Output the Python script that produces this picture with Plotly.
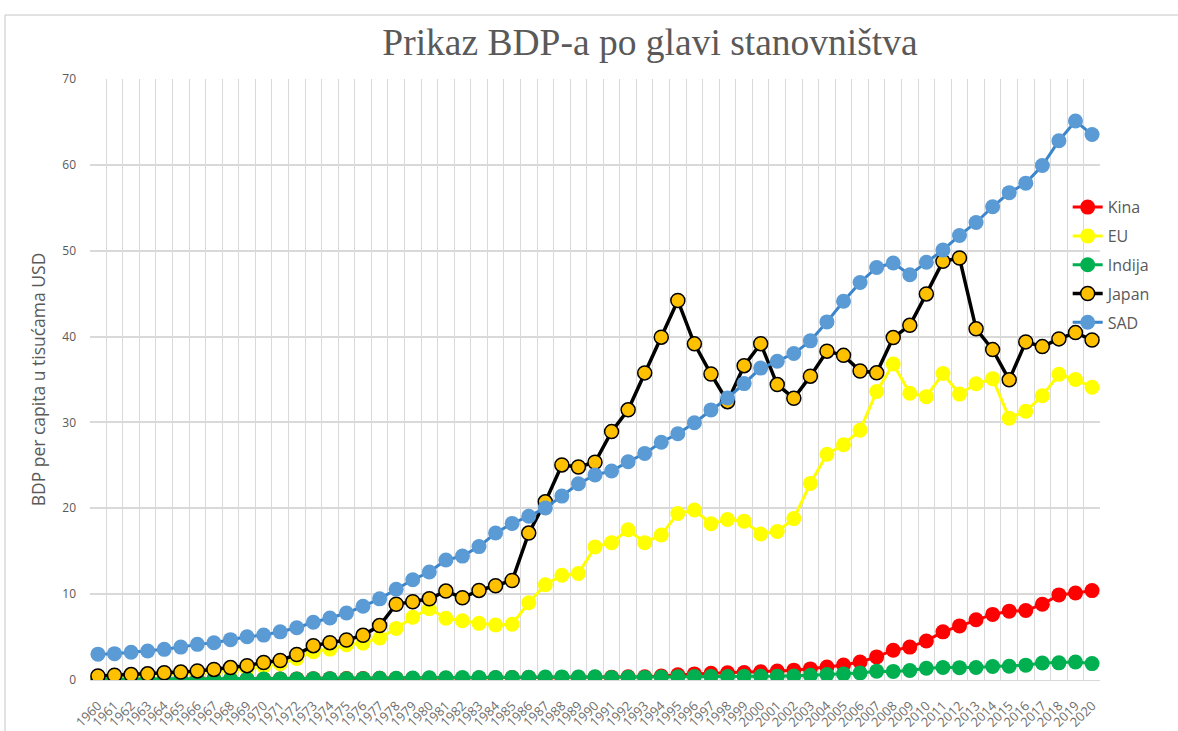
import plotly.graph_objects as go

years = list(range(1960, 2021))

kina = [0.09, 0.08, 0.07, 0.08, 0.09, 0.10, 0.10, 0.10, 0.09, 0.10,
        0.11, 0.12, 0.13, 0.16, 0.16, 0.18, 0.17, 0.19, 0.16, 0.18,
        0.20, 0.20, 0.20, 0.23, 0.25, 0.29, 0.28, 0.25, 0.28, 0.31,
        0.32, 0.33, 0.37, 0.38, 0.47, 0.61, 0.71, 0.78, 0.83, 0.87,
        0.96, 1.05, 1.15, 1.29, 1.51, 1.75, 2.10, 2.69, 3.47, 3.83,
        4.55, 5.61, 6.30, 7.02, 7.64, 8.02, 8.09, 8.82, 9.91, 10.14,
        10.41]

eu = [0.35, 0.40, 0.45, 0.50, 0.60, 0.70, 0.80, 0.95, 1.10, 1.30,
      1.60, 1.90, 2.50, 3.30, 3.60, 4.10, 4.30, 4.90, 6.00, 7.30,
      8.30, 7.20, 6.90, 6.60, 6.40, 6.50, 9.00, 11.10, 12.20, 12.40,
      15.50, 16.00, 17.50, 16.00, 16.90, 19.40, 19.80, 18.20, 18.70, 18.50,
      17.00, 17.30, 18.80, 22.90, 26.30, 27.40, 29.10, 33.60, 36.80, 33.40,
      33.00, 35.70, 33.30, 34.50, 35.10, 30.50, 31.30, 33.10, 35.60, 35.00,
      34.10]

indija = [0.08, 0.09, 0.09, 0.10, 0.12, 0.12, 0.09, 0.10, 0.10, 0.11,
          0.11, 0.12, 0.12, 0.14, 0.16, 0.16, 0.16, 0.19, 0.21, 0.22,
          0.27, 0.27, 0.28, 0.29, 0.28, 0.30, 0.31, 0.34, 0.36, 0.35,
          0.37, 0.30, 0.32, 0.30, 0.35, 0.37, 0.40, 0.42, 0.41, 0.44,
          0.44, 0.45, 0.47, 0.55, 0.63, 0.71, 0.81, 1.03, 1.00, 1.10,
          1.36, 1.46, 1.44, 1.45, 1.57, 1.61, 1.73, 1.98, 2.00, 2.10,
          1.91]

japan = [0.48, 0.56, 0.63, 0.72, 0.84, 0.92, 1.06, 1.23, 1.45, 1.67,
         2.04, 2.27, 2.97, 4.00, 4.35, 4.66, 5.20, 6.34, 8.82, 9.11,
         9.46, 10.36, 9.58, 10.43, 10.98, 11.59, 17.11, 20.75, 25.05, 24.81,
         25.36, 28.93, 31.47, 35.77, 39.93, 44.20, 39.15, 35.64, 32.42, 36.61,
         39.17, 34.41, 32.82, 35.39, 38.30, 37.81, 35.99, 35.78, 39.88, 41.31,
         44.97, 48.76, 49.15, 40.90, 38.48, 34.96, 39.38, 38.83, 39.73, 40.46,
         39.60]

sad = [3.01, 3.07, 3.24, 3.38, 3.57, 3.83, 4.15, 4.34, 4.70, 5.03,
       5.23, 5.61, 6.09, 6.73, 7.23, 7.80, 8.59, 9.45, 10.57, 11.67,
       12.58, 13.98, 14.43, 15.54, 17.12, 18.24, 19.07, 20.04, 21.42, 22.86,
       23.89, 24.34, 25.42, 26.39, 27.70, 28.69, 29.97, 31.46, 32.85, 34.52,
       36.33, 37.13, 38.02, 39.50, 41.71, 44.12, 46.30, 48.05, 48.57, 47.20,
       48.65, 50.07, 51.78, 53.29, 55.12, 56.76, 57.87, 59.92, 62.81, 65.10,
       63.53]

y_ticks = [0, 10, 20, 30, 40, 50, 60, 70]

series = [
    ("Kina", kina, "#FF0000", "#FF0000", "#FF0000", 0, 15),
    ("EU", eu, "#FFFF00", "#FFFF00", "#FFFF00", 0, 15),
    ("Indija", indija, "#00B050", "#00B050", "#00B050", 0, 15),
    ("Japan", japan, "#000000", "#FFC000", "#000000", 1.5, 14),
    ("SAD", sad, "#3A85CB", "#5B9BD5", "#5B9BD5", 0, 15),
]

fig = go.Figure()
for i, (name, vals, lcol, mcol, mlcol, mlw, msize) in enumerate(series):
    fig.add_trace(go.Scatter(
        x=years, y=vals, name=name, mode="lines+markers",
        legendgroup="g%d" % i,
        line=dict(color=lcol, width=3.5 if name == "Japan" else 3),
        marker=dict(color=mcol, size=msize,
                    line=dict(color=mlcol, width=mlw)),
    ))

grid = "#D9D9D9"
txt = "#595959"

fig.update_layout(
    width=1178, height=731,
    paper_bgcolor="white", plot_bgcolor="white",
    margin=dict(l=90, r=78, t=79, b=51),
    font=dict(family="Open Sans, Noto Sans, sans-serif", color=txt),
    title=dict(text="Prikaz BDP-a po glavi stanovništva",
               font=dict(family="Liberation Serif, serif", size=37.5, color=txt),
               x=650 / 1178, xanchor="center", xref="container",
               y=1 - 42 / 731, yanchor="middle", yref="container"),
    legend=dict(x=0.968, y=0.815, xanchor="left", yanchor="top",
                font=dict(size=16, color=txt), bgcolor="rgba(0,0,0,0)",
                tracegroupgap=5, itemwidth=30),
    showlegend=True,
)

fig.update_xaxes(
    type="linear", range=[1959.52, 2020.48], automargin=False,
    tickmode="array", tickvals=years, ticktext=[str(y) for y in years],
    tickangle=-45, tickfont=dict(size=13, color="#6E6E6E"),
    showgrid=False, zeroline=False,
    showline=True, linecolor=grid, linewidth=1,
    ticks="", ticklabelstandoff=12,
    minor=dict(tickvals=[y + 0.5 for y in years[:-1]], showgrid=True,
               gridcolor=grid, gridwidth=1, ticks=""),
)

fig.update_yaxes(
    range=[0, 70], tickmode="array", tickvals=y_ticks, automargin=False,
    tickfont=dict(size=12, color=txt),
    showgrid=True, gridcolor=grid, gridwidth=1.5, zeroline=False,
    ticks="", ticklabelstandoff=13,
    title=dict(text="BDP per capita u tisućama USD",
               font=dict(size=17.5, color=txt), standoff=12),
)

# chart-area border (top and left edges)
fig.add_shape(type="line", xref="paper", yref="paper",
              x0=(5 - 90) / 1010, x1=1.2, y0=(680 - 15) / 601, y1=(680 - 15) / 601,
              line=dict(color="#D9D9D9", width=1.5))
fig.add_shape(type="line", xref="paper", yref="paper",
              x0=(5 - 90) / 1010, x1=(5 - 90) / 1010, y0=(680 - 15) / 601, y1=-0.2,
              line=dict(color="#D9D9D9", width=1.5))

fig.write_html("out.html", config={"displayModeBar": False},
               post_script="document.body.style.margin='0';document.body.style.padding='0';")
